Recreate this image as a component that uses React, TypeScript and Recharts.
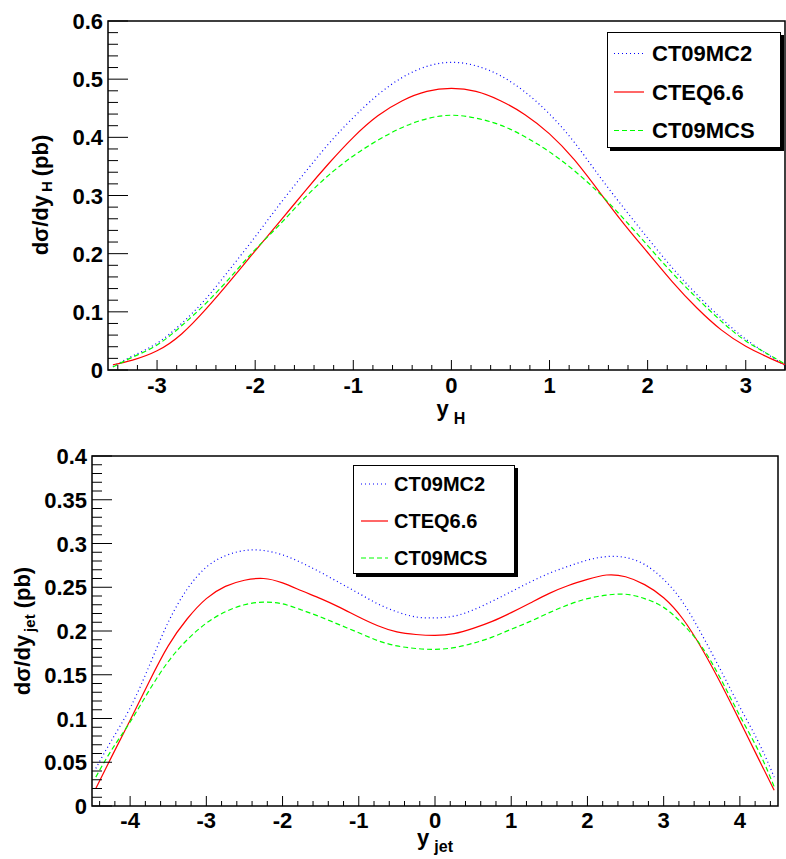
import React from "react";
import { LineChart, Line, XAxis, YAxis, ReferenceArea } from "recharts";

// ---------- Top panel: d sigma / d y_H ----------
const yHValues = [-3.45, -3.25, -3.0, -2.75, -2.5, -2.25, -2.0, -1.75, -1.5, -1.25, -1.0, -0.75, -0.5, -0.25, 0, 0.25, 0.5, 0.75, 1.0, 1.25, 1.5, 1.75, 2.0, 2.25, 2.5, 2.75, 3.0, 3.25, 3.4];
const topCT09MC2 = [0.006, 0.024, 0.046, 0.080, 0.123, 0.175, 0.229, 0.285, 0.338, 0.389, 0.434, 0.473, 0.503, 0.522, 0.529, 0.523, 0.506, 0.478, 0.440, 0.392, 0.335, 0.280, 0.227, 0.176, 0.130, 0.089, 0.053, 0.024, 0.008];
const topCTEQ66 = [0.009, 0.017, 0.033, 0.062, 0.105, 0.154, 0.205, 0.255, 0.306, 0.355, 0.400, 0.437, 0.463, 0.479, 0.484, 0.479, 0.463, 0.439, 0.406, 0.362, 0.308, 0.253, 0.202, 0.152, 0.107, 0.069, 0.041, 0.020, 0.009];
const topCT09MCS = [0.005, 0.022, 0.043, 0.076, 0.115, 0.160, 0.207, 0.250, 0.295, 0.335, 0.368, 0.395, 0.417, 0.432, 0.438, 0.433, 0.421, 0.401, 0.375, 0.343, 0.305, 0.261, 0.214, 0.167, 0.124, 0.084, 0.050, 0.025, 0.010];
const topXTicks = Array.from({ length: 35 }, (_, i) => (-34 + 2 * i) / 10);
const topYTicks = Array.from({ length: 31 }, (_, i) => (2 * i) / 100);

// ---------- Bottom panel: d sigma / d y_jet ----------
const yJetValues = [-4.45, -4.25, -4.0, -3.75, -3.5, -3.25, -3.0, -2.75, -2.5, -2.25, -2.0, -1.75, -1.5, -1.25, -1.0, -0.75, -0.5, -0.25, 0, 0.25, 0.5, 0.75, 1.0, 1.25, 1.5, 1.75, 2.0, 2.25, 2.5, 2.75, 3.0, 3.25, 3.5, 3.75, 4.0, 4.25, 4.45];
const botCT09MC2 = [0.043, 0.074, 0.112, 0.160, 0.210, 0.248, 0.273, 0.286, 0.292, 0.292, 0.287, 0.278, 0.267, 0.255, 0.243, 0.231, 0.222, 0.216, 0.215, 0.217, 0.224, 0.234, 0.245, 0.256, 0.266, 0.274, 0.281, 0.285, 0.284, 0.276, 0.259, 0.233, 0.196, 0.155, 0.113, 0.072, 0.033];
const botCTEQ66 = [0.020, 0.055, 0.098, 0.142, 0.183, 0.214, 0.237, 0.251, 0.258, 0.260, 0.255, 0.246, 0.237, 0.227, 0.216, 0.206, 0.199, 0.196, 0.195, 0.197, 0.203, 0.211, 0.221, 0.232, 0.243, 0.252, 0.259, 0.264, 0.262, 0.253, 0.238, 0.214, 0.180, 0.140, 0.097, 0.053, 0.018];
const botCT09MCS = [0.033, 0.063, 0.096, 0.132, 0.165, 0.190, 0.209, 0.222, 0.230, 0.233, 0.231, 0.224, 0.216, 0.207, 0.198, 0.189, 0.183, 0.180, 0.179, 0.181, 0.186, 0.193, 0.202, 0.211, 0.221, 0.230, 0.237, 0.241, 0.242, 0.237, 0.227, 0.208, 0.182, 0.145, 0.103, 0.062, 0.022];
const botXTicks = Array.from({ length: 45 }, (_, i) => (-44 + 2 * i) / 10);
const botYTicks = Array.from({ length: 41 }, (_, i) => i / 100);

const seriesNames = ["CT09MC2", "CTEQ6.6", "CT09MCS"];

const topData = yHValues.map((x, i) => ({ x, a: topCT09MC2[i], b: topCTEQ66[i], c: topCT09MCS[i] }));
const botData = yJetValues.map((x, i) => ({ x, a: botCT09MC2[i], b: botCTEQ66[i], c: botCT09MCS[i] }));

const FONT = "'Liberation Sans', Arial, Helvetica, sans-serif";
const BLUE = "#0000ff";
const RED = "#ff0000";
const GREEN = "#00ff00";
const BLUE_DASH = "1 3";
const GREEN_DASH = "5 3";

const near = (v: number, step: number) => Math.abs(v / step - Math.round(v / step)) < 1e-6;
const fmt = (v: number) => String(Number(v.toFixed(3)));

const makeXTick = (labelDy: number) => (props: any) => {
  const { x, y, payload } = props;
  const v = payload.value;
  const major = near(v, 1);
  return (
    <g>
      <line x1={x} x2={x} y1={y} y2={y - (major ? 10 : 5)} stroke="#000" strokeWidth={1} />
      {major && (
        <text x={x} y={y + labelDy} textAnchor="middle" fontFamily={FONT} fontWeight="bold" fontSize={22} fill="#000">
          {String(Math.round(v))}
        </text>
      )}
    </g>
  );
};

const makeYTick = (majorStep: number) => (props: any) => {
  const { x, y, payload } = props;
  const v = payload.value;
  const major = near(v, majorStep);
  return (
    <g>
      <line x1={x} x2={x + (major ? 20 : 10)} y1={y} y2={y} stroke="#000" strokeWidth={1} />
      {major && (
        <text x={x - 5} y={y + 8} textAnchor="end" fontFamily={FONT} fontWeight="bold" fontSize={22} fill="#000">
          {fmt(v)}
        </text>
      )}
    </g>
  );
};

const TopXTick = makeXTick(23);
const TopYTick = makeYTick(0.1);
const BotXTick = makeXTick(22);
const BotYTick = makeYTick(0.05);

type LegendProps = { left: number; top: number; width: number; height: number; rows: number[]; fontSize: number; lineX: [number, number]; textX: number };

const LegendBox = ({ left, top, width, height, rows, fontSize, lineX, textX }: LegendProps) => {
  const styles = [
    { color: BLUE, dash: BLUE_DASH },
    { color: RED, dash: undefined },
    { color: GREEN, dash: GREEN_DASH },
  ];
  return (
    <div
      style={{
        position: "absolute",
        left,
        top,
        width,
        height,
        boxSizing: "border-box",
        border: "1px solid #000",
        background: "#fff",
        boxShadow: "3px 3px 0 #000",
      }}
    >
      <svg width={width - 2} height={height - 2} style={{ display: "block" }}>
        {seriesNames.map((name, i) => (
          <g key={name}>
            <line x1={lineX[0]} x2={lineX[1]} y1={rows[i]} y2={rows[i]} stroke={styles[i].color} strokeWidth={1.2} strokeDasharray={styles[i].dash} />
            <text x={textX} y={rows[i] + fontSize * 0.36} fontFamily={FONT} fontWeight="bold" fontSize={fontSize} fill="#000">
              {name}
            </text>
          </g>
        ))}
      </svg>
    </div>
  );
};

const renderLines = () => [
  <Line key="a" type="natural" dataKey="a" stroke={BLUE} strokeWidth={1.2} strokeDasharray={BLUE_DASH} dot={false} isAnimationActive={false} />,
  <Line key="b" type="natural" dataKey="b" stroke={RED} strokeWidth={1.2} dot={false} isAnimationActive={false} />,
  <Line key="c" type="natural" dataKey="c" stroke={GREEN} strokeWidth={1.2} strokeDasharray={GREEN_DASH} dot={false} isAnimationActive={false} />,
];

export default function App() {
  return (
    <div style={{ position: "absolute", left: 0, top: 0, width: 786, height: 859, background: "#fff", overflow: "hidden" }}>
      <div style={{ position: "absolute", left: 0, top: 0 }}>
        <LineChart width={786} height={430} data={topData} margin={{ top: 21, right: 1, left: 0, bottom: 0 }}>
          <XAxis
            dataKey="x"
            type="number"
            domain={[-3.5, 3.4]}
            allowDataOverflow
            ticks={topXTicks}
            interval={0}
            tick={TopXTick}
            tickLine={false}
            axisLine={false}
            tickSize={0}
            tickMargin={0}
            height={60}
          />
          <YAxis
            type="number"
            domain={[0, 0.6]}
            allowDataOverflow
            ticks={topYTicks}
            interval={0}
            tick={TopYTick}
            tickLine={false}
            axisLine={false}
            tickSize={0}
            tickMargin={0}
            width={108}
          />
          <ReferenceArea x1={-3.5} x2={3.4} y1={0} y2={0.6} fill="none" stroke="#000" strokeWidth={1.5} ifOverflow="visible" />
          {renderLines()}
        </LineChart>
      </div>
      <div style={{ position: "absolute", left: 0, top: 430 }}>
        <LineChart width={786} height={429} data={botData} margin={{ top: 26, right: 8, left: 0, bottom: 0 }}>
          <XAxis
            dataKey="x"
            type="number"
            domain={[-4.5, 4.5]}
            allowDataOverflow
            ticks={botXTicks}
            interval={0}
            tick={BotXTick}
            tickLine={false}
            axisLine={false}
            tickSize={0}
            tickMargin={0}
            height={53}
          />
          <YAxis
            type="number"
            domain={[0, 0.4]}
            allowDataOverflow
            ticks={botYTicks}
            interval={0}
            tick={BotYTick}
            tickLine={false}
            axisLine={false}
            tickSize={0}
            tickMargin={0}
            width={92}
          />
          <ReferenceArea x1={-4.5} x2={4.5} y1={0} y2={0.4} fill="none" stroke="#000" strokeWidth={1.5} ifOverflow="visible" />
          {renderLines()}
        </LineChart>
      </div>

      <svg width={786} height={859} style={{ position: "absolute", left: 0, top: 0, pointerEvents: "none" }}>
        <g fontFamily={FONT} fontWeight="bold" fill="#000">
          <text transform="rotate(-90)" x={-195} y={48} textAnchor="middle" fontSize={22}>
            dσ/dy
            <tspan fontSize={15} dx={3} dy={4}>H</tspan>
            <tspan dx={5} dy={-4}>(pb)</tspan>
          </text>
          <text x={451} y={416} textAnchor="middle" fontSize={22}>
            y
            <tspan fontSize={16} dx={5} dy={8}>H</tspan>
          </text>
          <text transform="rotate(-90)" x={-631} y={30} textAnchor="middle" fontSize={22}>
            dσ/dy
            <tspan fontSize={15} dx={3} dy={5}>jet</tspan>
            <tspan dx={6} dy={-5}>(pb)</tspan>
          </text>
          <text x={435} y={845} textAnchor="middle" fontSize={22}>
            y
            <tspan fontSize={16} dx={5} dy={7}>jet</tspan>
          </text>
        </g>
      </svg>

      <LegendBox left={607} top={32} width={174} height={116} rows={[20.5, 59, 97.5]} fontSize={22} lineX={[6, 36]} textX={44} />
      <LegendBox left={353} top={465} width={162} height={109} rows={[18, 55, 92]} fontSize={20} lineX={[7, 34]} textX={40} />
    </div>
  );
}
